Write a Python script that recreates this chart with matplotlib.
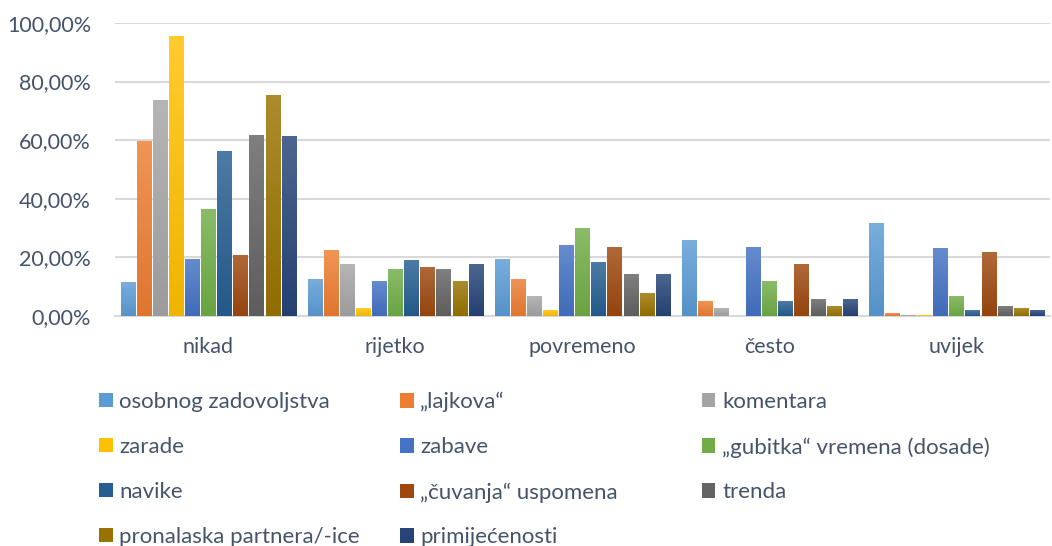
import numpy as np
import matplotlib
matplotlib.use("Agg")
import matplotlib.pyplot as plt
from matplotlib.colors import LinearSegmentedColormap, to_rgb
from matplotlib.patches import Rectangle
from matplotlib.ticker import FuncFormatter

categories = ["nikad", "rijetko", "povremeno", "često", "uvijek"]
series_names = ["osobnog zadovoljstva", "„lajkova“", "komentara", "zarade", "zabave",
                "„gubitka“ vremena (dosade)", "navike", "„čuvanja“ uspomena", "trenda",
                "pronalaska partnera/-ice", "primijećenosti"]
osobnog = [11.3, 12.3, 19.1, 25.9, 31.4]
lajkova = [59.4, 22.5, 12.3, 5.1, 1.0]
komentara = [73.4, 17.4, 6.8, 2.4, 0.3]
zarade = [95.2, 2.4, 2.0, 0.0, 0.3]
zabave = [19.1, 11.6, 23.9, 23.2, 22.9]
gubitka = [36.2, 16.0, 30.0, 11.6, 6.8]
navike = [56.0, 18.8, 18.4, 4.8, 2.0]
cuvanja = [20.8, 16.4, 23.5, 17.7, 21.5]
trenda = [61.4, 16.0, 14.0, 5.5, 3.1]
pronalaska = [75.1, 11.6, 7.8, 3.4, 2.7]
primijecenosti = [61.1, 17.7, 14.0, 5.5, 2.0]
values = [osobnog, lajkova, komentara, zarade, zabave, gubitka, navike, cuvanja,
          trenda, pronalaska, primijecenosti]
yticks = [0, 20, 40, 60, 80, 100]

colors = ["#5B9BD5", "#ED7D31", "#A5A5A5", "#FFC000", "#4472C4", "#70AD47",
          "#255E91", "#9E480E", "#636363", "#997300", "#264478"]

def mix(c, t, f):
    c = np.array(to_rgb(c)); t = np.array(to_rgb(t))
    return tuple(c + (t - c) * f)

plt.rcParams['font.family'] = ['Lato', 'DejaVu Sans']
text_color = "#44546A"

fig = plt.figure(figsize=(10.52, 5.46), dpi=100)
ax = fig.add_axes([0.109, 0.421, 0.889, 0.537])

n = len(values)
step = 0.086
width = 0.075
x = np.arange(len(categories))
for i, (vals, col) in enumerate(zip(values, colors)):
    off = (i - (n - 1) / 2) * step
    bars = ax.bar(x + off, vals, width=width, color=col, zorder=2, linewidth=0)
    cmap = LinearSegmentedColormap.from_list("g", [mix(col, "white", 0.18), mix(col, "black", 0.06)])
    grad = np.linspace(0, 1, 128).reshape(-1, 1)
    for b in bars:
        if b.get_height() <= 0:
            continue
        x0, y0, w, h = b.get_x(), b.get_y(), b.get_width(), b.get_height()
        ax.imshow(grad, extent=[x0, x0 + w, y0, y0 + h], origin="upper", cmap=cmap,
                  aspect="auto", zorder=3, interpolation="bilinear")

ax.set_xlim(-0.5, len(categories) - 0.5)
ax.set_ylim(0, 100)
ax.set_yticks(yticks)
ax.yaxis.set_major_formatter(FuncFormatter(lambda v, p: f"{v:.2f}".replace(".", ",") + "%"))
ax.grid(axis="y", color="#D9D9D9", linewidth=1.5, zorder=0)
ax.set_axisbelow(True)
for s in ["top", "right", "left"]:
    ax.spines[s].set_visible(False)
ax.spines["bottom"].set_color("#D9D9D9")
ax.spines["bottom"].set_linewidth(1.5)
ax.set_xticks(x)
ax.set_xticklabels(categories)
ax.tick_params(axis="both", length=0, labelsize=15.5, labelcolor=text_color)
ax.tick_params(axis="y", pad=17)
ax.tick_params(axis="x", pad=15)

# legend in three columns (row-wise order as in reference)
handles = [Rectangle((0, 0), 1, 1, facecolor=c, edgecolor="none") for c in colors]
col_x = [0.094, 0.380, 0.667]
for c in range(3):
    idx = list(range(c, n, 3))
    fig.legend([handles[i] for i in idx], [series_names[i] for i in idx],
               loc="upper left", bbox_to_anchor=(col_x[c], 0.282), frameon=False,
               fontsize=16, labelcolor=text_color, handlelength=0.62, handleheight=0.62,
               handletextpad=0.3, labelspacing=1.12, borderaxespad=0, borderpad=0)

fig.savefig("out.png", dpi=100)
